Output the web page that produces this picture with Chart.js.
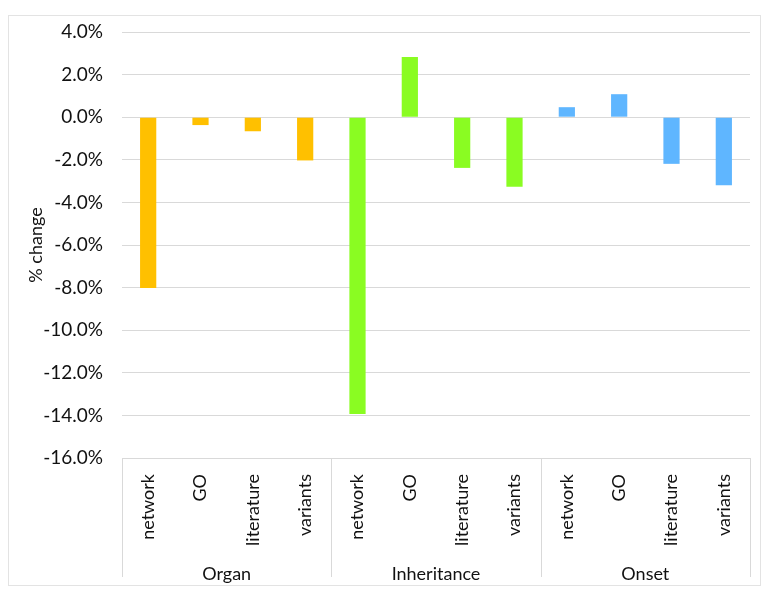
<!DOCTYPE html>
<html>
<head>
<meta charset="utf-8">
<script src="https://cdn.jsdelivr.net/npm/chart.js@4"></script>
<style>
  html, body { margin: 0; padding: 0; background: #fff; }
  #wrap { width: 770px; height: 602px; position: relative; }
</style>
</head>
<body>
<div id="wrap"><canvas id="chart"></canvas></div>
<script>
const groups = ['Organ', 'Inheritance', 'Onset'];
const sources = ['network', 'GO', 'literature', 'variants'];
const organValues = [-8.02, -0.37, -0.66, -2.03];
const inheritanceValues = [-13.93, 2.83, -2.38, -3.27];
const onsetValues = [0.47, 1.08, -2.19, -3.20];
const groupColors = ['#FFC000', '#8AFC22', '#5FB6FF'];
const yTicks = [4, 2, 0, -2, -4, -6, -8, -10, -12, -14, -16];

const labels = [];
const values = [];
const colors = [];
[organValues, inheritanceValues, onsetValues].forEach((vals, g) => {
  vals.forEach((v, i) => {
    labels.push(sources[i]);
    values.push(v);
    colors.push(groupColors[g]);
  });
});

const FONT = 'Lato, "Open Sans", sans-serif';
const TEXT = '#111';
const gridColor = '#d9d9d9';

// outer frame and the group separators under the plot
const framePlugin = {
  id: 'frame',
  beforeDraw(chart) {
    const ctx = chart.ctx;
    ctx.save();
    ctx.strokeStyle = '#e3e3e3';
    ctx.lineWidth = 1;
    ctx.strokeRect(8.5, 15.5, 752, 570);
    ctx.restore();
  },
  afterDraw(chart) {
    const ctx = chart.ctx;
    const x2 = chart.scales.x2;
    const area = chart.chartArea;
    const half = (x2.getPixelForValue(1) - x2.getPixelForValue(0)) / 2;
    ctx.save();
    ctx.strokeStyle = gridColor;
    ctx.lineWidth = 1;
    for (let g = 0; g <= groups.length; g++) {
      const px = Math.round(x2.getPixelForValue(g) - half) + 0.5;
      ctx.beginPath();
      ctx.moveTo(px, area.bottom);
      ctx.lineTo(px, x2.bottom - 11);
      ctx.stroke();
    }
    ctx.restore();
  }
};

const ctx = document.getElementById('chart').getContext('2d');

new Chart(ctx, {
  type: 'bar',
  data: {
    labels: labels,
    datasets: [{
      data: values,
      backgroundColor: colors,
      borderWidth: 0,
      barPercentage: 0.31,
      categoryPercentage: 1
    }]
  },
  options: {
    responsive: true,
    maintainAspectRatio: false,
    animation: false,
    layout: { padding: { left: 8, right: 20, top: 32, bottom: 14 } },
    plugins: {
      legend: { display: false },
      tooltip: { enabled: false }
    },
    scales: {
      y: {
        min: -16,
        max: 4,
        afterBuildTicks(scale) {
          scale.ticks = yTicks.map(v => ({ value: v }));
        },
        afterFit(scale) { scale.width = 114; },
        border: { display: false },
        grid: { color: gridColor, drawTicks: false },
        ticks: {
          padding: 19,
          color: TEXT,
          font: { family: FONT, size: 19 },
          callback: v => v.toFixed(1) + '%'
        },
        title: {
          display: true,
          text: '% change',
          color: TEXT,
          padding: { top: 17, bottom: 0 },
          font: { family: FONT, size: 18 }
        }
      },
      x: {
        position: 'bottom',
        afterFit(scale) { scale.height = 93; },
        border: { display: false },
        grid: { display: false },
        ticks: {
          minRotation: 90,
          maxRotation: 90,
          autoSkip: false,
          padding: 8,
          color: TEXT,
          font: { family: FONT, size: 18 }
        }
      },
      x2: {
        type: 'category',
        position: 'bottom',
        labels: groups,
        offset: true,
        afterFit(scale) { scale.height = 37; },
        border: { display: false },
        grid: { display: false },
        ticks: {
          padding: 4,
          color: TEXT,
          font: { family: FONT, size: 18 }
        }
      }
    }
  },
  plugins: [framePlugin]
});
</script>
</body>
</html>
